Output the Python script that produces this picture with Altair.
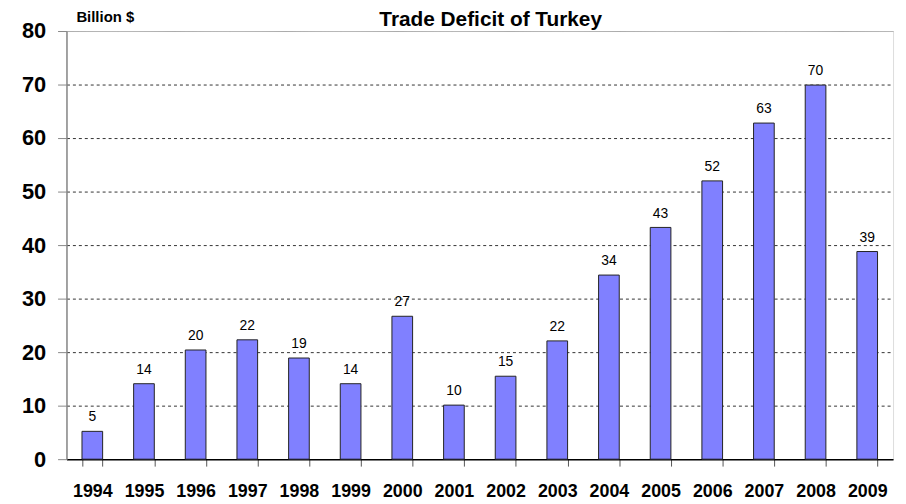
import altair as alt
import pandas as pd

years = ["1994", "1995", "1996", "1997", "1998", "1999", "2000", "2001",
         "2002", "2003", "2004", "2005", "2006", "2007", "2008", "2009"]
deficit = [5.2, 14.1, 20.4, 22.3, 18.9, 14.1, 26.7, 10.1,
           15.5, 22.1, 34.4, 43.3, 52.0, 62.8, 69.9, 38.8]
labels = ["5", "14", "20", "22", "19", "14", "27", "10",
          "15", "22", "34", "43", "52", "63", "70", "39"]

df = pd.DataFrame({"year": years, "value": deficit, "label": labels})

FONT = "Liberation Sans"

x = alt.X("year:N", sort=years, title=None,
          scale=alt.Scale(paddingInner=0.6, paddingOuter=0.3),
          axis=alt.Axis(labelAngle=0, labelFont=FONT, labelFontSize=18,
                        labelFontWeight="bold", labelColor="black",
                        labelPadding=17, tickBand="extent", tickSize=7,
                        tickColor="#555", domainColor="black", domainWidth=1.5,
                        grid=False))
y = alt.Y("value:Q", title=None,
          scale=alt.Scale(domain=[0, 80], nice=False),
          axis=alt.Axis(values=[0, 10, 20, 30, 40, 50, 60, 70, 80],
                        labelFont=FONT, labelFontSize=22, labelFontWeight="bold",
                        labelColor="black", labelPadding=12, tickSize=9,
                        tickColor="#888", domainColor="#888", domainWidth=1.5,
                        grid=True,
                        gridColor=alt.condition("datum.value == 80", alt.value("#aaaaaa"), alt.value("#333333")),
                        gridDash=alt.condition("datum.value == 80", alt.value([1, 0]), alt.value([3, 3])),
                        gridOpacity=alt.condition("datum.value == 0", alt.value(0), alt.value(1))))

base = alt.Chart(df)

bars = base.mark_bar(color="#8080FF", stroke="#222222", strokeWidth=1).encode(x=x, y=y)

text = base.mark_text(font=FONT, fontSize=14, dy=-10, baseline="alphabetic",
                      color="black").encode(x=alt.X("year:N", sort=years), y="value:Q",
                                            text="label:N")

title = alt.Chart(pd.DataFrame({"t": ["Trade Deficit of Turkey"]})).mark_text(
    font=FONT, fontSize=21, fontWeight="bold", align="center", baseline="alphabetic",
    color="black").encode(x=alt.value(428), y=alt.value(-5), text="t:N")

unit = alt.Chart(pd.DataFrame({"t": ["Billion $"]})).mark_text(
    font=FONT, fontSize=15, fontWeight="bold", align="left", baseline="alphabetic",
    color="black").encode(x=alt.value(10), y=alt.value(-9), text="t:N")

chart = alt.layer(bars, text, title, unit).properties(
    width=834, height=432,
    autosize=alt.AutoSizeParams(type="none"),
    padding={"left": 59, "top": 21, "right": 5, "bottom": 43},
).configure_view(stroke=None).configure(background="white")

chart.save("out.html", embed_options={"renderer": "svg", "actions": False})
